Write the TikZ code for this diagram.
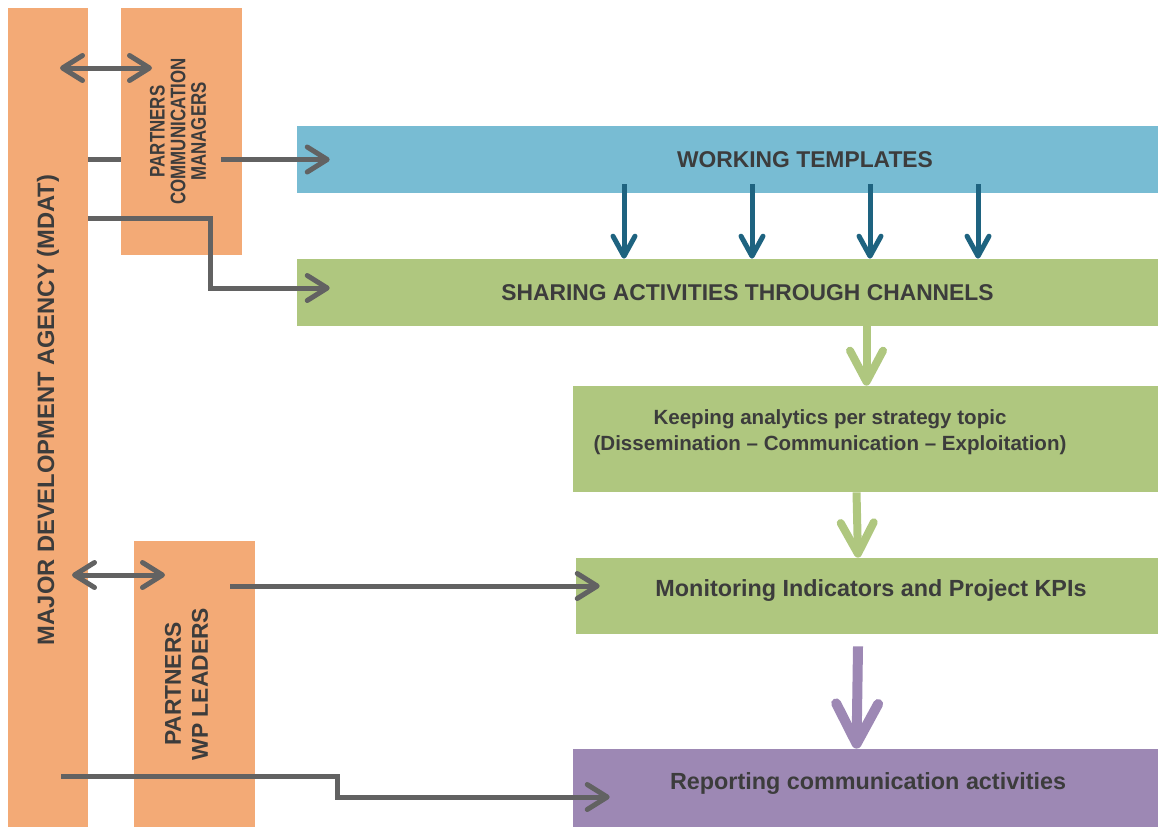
\documentclass[tikz,border=0pt]{standalone}
\usepackage{fontspec}
\setmainfont{Liberation Sans}
\newfontfamily\narrowsans[FakeStretch=0.8]{Liberation Sans}
\usepackage{tikz}
\usetikzlibrary{arrows.meta,calc}

\definecolor{boxorange}{HTML}{F3AA76}
\definecolor{boxblue}{HTML}{78BCD3}
\definecolor{boxgreen}{HTML}{AFC77F}
\definecolor{boxpurple}{HTML}{9D88B4}
\definecolor{arrowgray}{HTML}{626262}
\definecolor{arrowteal}{HTML}{1E6380}
\definecolor{textdark}{HTML}{3C3C3C}

\begin{document}
\begin{tikzpicture}[x=0.02cm, y=-0.02cm,
      every label/.append style={text=textdark, font=\bfseries, align=center, inner sep=0pt},
      link/.style={draw=arrowgray, line width=1mm,
        arrows={-Straight Barb[length=4mm,width=5mm,round]}},
      dlink/.style={link, arrows={Straight Barb[length=4mm,width=5mm,round]-Straight Barb[length=4mm,width=5mm,round]}},
      tealarrow/.style={draw=arrowteal, line width=1mm,
        arrows={-Straight Barb[length=4mm,width=4.4mm,round]}},
      greenarrow/.style={draw=boxgreen, line width=1.6mm,
        arrows={-Straight Barb[length=6.2mm,width=6.6mm,round]}},
      purplearrow/.style={draw=boxpurple, line width=2mm,
        arrows={-Straight Barb[length=8mm,width=8.4mm,round]}}]
    \tikzstyle{block} = [rectangle, inner sep=0pt, draw=none]
    \clip (0,0) rectangle (1158,829);
    % actors on the left
    \node (mdat) [block, fill=boxorange, minimum width=1.6cm, minimum height=16.38cm,
      label={[yshift=0.15cm, rotate=90, font=\bfseries\fontsize{13.5}{16}\selectfont]center:MAJOR DEVELOPMENT AGENCY (MDAT)}] at (48,417.5) {};
    \node (pcm) [block, fill=boxorange, minimum width=2.42cm, minimum height=4.94cm,
      label={[xshift=-0.07cm, rotate=90, font=\narrowsans\bfseries\fontsize{12}{11.7}\selectfont]center:PARTNERS\\COMMUNICATION\\MANAGERS}] at (181.5,131.5) {};
    \node (wpl) [block, fill=boxorange, minimum width=2.42cm, minimum height=5.72cm,
      label={[xshift=-0.16cm, rotate=90, font=\bfseries\fontsize{13}{15.4}\selectfont]center:PARTNERS\\WP LEADERS}] at (194.5,684) {};
    % process blocks
    \node (wt) [block, fill=boxblue, minimum width=17.26cm, minimum height=1.34cm,
      label={[xshift=1.53cm, font=\bfseries\fontsize{13}{15}\selectfont]center:WORKING TEMPLATES}] at (728.5,159.5) {};
    \node (sh) [block, fill=boxgreen, minimum width=17.26cm, minimum height=1.34cm,
      label={[xshift=0.38cm, font=\bfseries\fontsize{13}{15}\selectfont]center:SHARING ACTIVITIES THROUGH CHANNELS}] at (728.5,292.5) {};
    \node (kp) [block, fill=boxgreen, minimum width=11.74cm, minimum height=2.12cm,
      label={[xshift=-0.73cm, yshift=0.14cm, font=\bfseries\fontsize{11.7}{14.8}\selectfont]center:Keeping analytics per strategy topic\\(Dissemination -- Communication -- Exploitation)}] at (866.5,439) {};
    \node (mon) [block, fill=boxgreen, minimum width=11.68cm, minimum height=1.52cm,
      label={[xshift=0.06cm, yshift=0.12cm, font=\bfseries\fontsize{13.3}{15}\selectfont]center:Monitoring Indicators and Project KPIs}] at (868,596) {};
    \node (rep) [block, fill=boxpurple, minimum width=11.74cm, minimum height=1.56cm,
      label={[xshift=0.03cm, yshift=0.1cm, font=\bfseries\fontsize{13.3}{15}\selectfont]center:Reporting communication activities}] at (866.5,788) {};
    % free ends of the grey connectors
    \coordinate (mdat-top) at (60,68);
    \coordinate (pcm-top) at (152,68);
    \coordinate (pcm-out) at (221,159.5);
    \coordinate (mdat-share) at (88,218);
    \coordinate (mdat-wp) at (72,575);
    \coordinate (wpl-in) at (165,575);
    \coordinate (wpl-out) at (230,586);
    \coordinate (mdat-rep) at (61,776);
    % grey connectors
    \draw[dlink] (mdat-top) -- (pcm-top);
    \draw[link, arrows=-] (mdat.east |- pcm-out) -- (pcm.west |- pcm-out);
    \draw[link] (pcm-out) -- ([xshift=0.66cm]wt.west);
    \draw[link] (mdat-share) -- ++(122,0) |- ([xshift=0.66cm,yshift=0.09cm]sh.west);
    \draw[dlink] (mdat-wp) -- (wpl-in);
    \draw[link] (wpl-out) -- ([xshift=0.48cm]mon.west |- wpl-out);
    \draw[link] (mdat-rep) -- ++(276,0) |- ([xshift=0.74cm,yshift=-0.18cm]rep.west);
    % flow between blocks
    \foreach \x in {624,752,870,978}
      \draw[tealarrow] ([yshift=0.18cm]wt.south -| \x,0) -- (sh.north -| \x,0);
    \draw[greenarrow] (sh.south -| kp.north) -- (kp.north);
    \draw[greenarrow] ([xshift=-0.2cm]kp.south) -- ([xshift=-0.2cm]mon.north);
    \draw[purplearrow] ([xshift=-0.2cm,yshift=-0.24cm]mon.south) -- ([xshift=-0.2cm]rep.north);
\end{tikzpicture}
\end{document}
